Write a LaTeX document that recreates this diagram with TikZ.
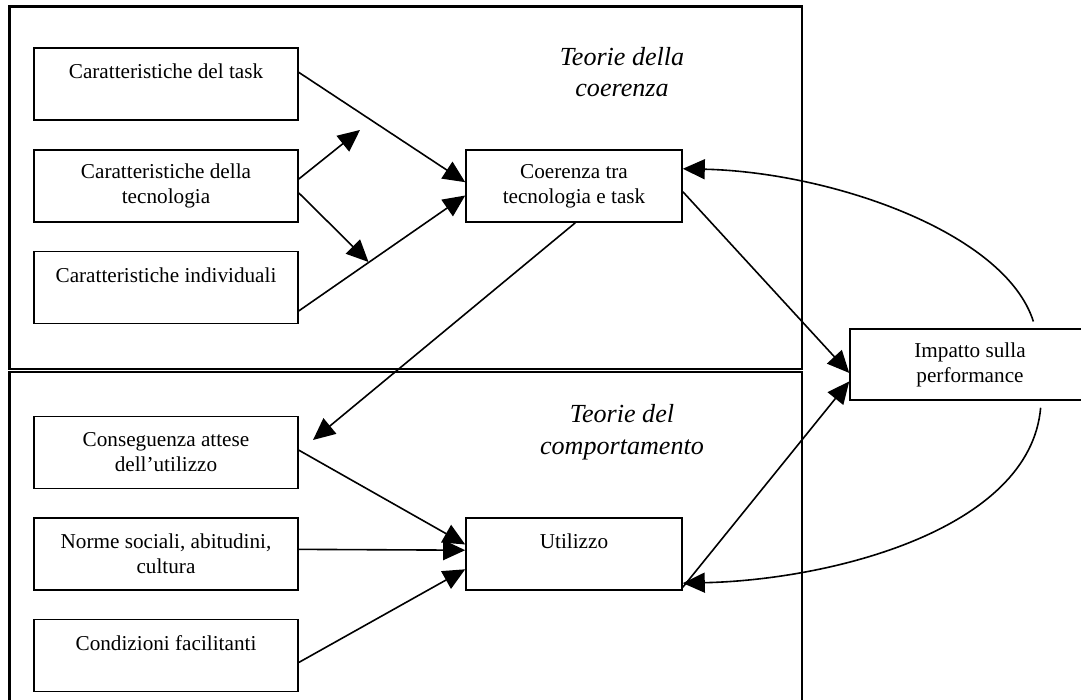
\documentclass[tikz,border=0pt]{standalone}
\usepackage{fontspec}
\setmainfont{Liberation Serif}
\usetikzlibrary{arrows.meta,calc}
\tikzstyle{box}=[rectangle,draw=black,line width=1.6pt,fill=white,align=center,
  minimum width=264pt,minimum height=72pt,inner sep=0pt,
  font=\fontsize{21.2}{25}\selectfont]
\tikzstyle{lbl}=[align=center,inner sep=0pt,font=\fontsize{26.1}{31.5}\selectfont\itshape]
\tikzstyle{frame}=[draw=black,line width=2.2pt]
\tikzstyle{arr}=[line width=1.6pt,-{Triangle[length=22pt,width=20pt]}]
\tikzstyle{none}=[inner sep=0pt]

\begin{document}
\begin{tikzpicture}[x=10pt,y=10pt]
            \useasboundingbox (0,0) rectangle (108.1,70);
            \draw [style=frame] (0.95, 69.35) rectangle (80.2, 33.1);
            \draw [style=frame] (0.95, 32.8) rectangle (80.2, -2);
            \node [style=box] (1) at (16.6, 61.6) {Caratteristiche del task\\~};
            \node [style=box] (2) at (16.6, 51.4) {Caratteristiche della\\tecnologia};
            \node [style=box] (3) at (16.6, 41.25) {Caratteristiche individuali\\~};
            \node [style=box, minimum width=216pt] (4) at (57.4, 51.4) {Coerenza tra\\tecnologia e task};
            \node [style=box] (5) at (16.6, 24.75) {Conseguenza attese\\dell’utilizzo};
            \node [style=box] (6) at (16.6, 14.6) {Norme sociali, abitudini,\\cultura};
            \node [style=box] (7) at (16.6, 4.45) {Condizioni facilitanti\\~};
            \node [style=box, minimum width=216pt] (8) at (57.4, 14.6) {Utilizzo\\~};
            \node [style=box, minimum width=240pt, minimum height=71pt] (9) at (97.0, 33.55) {Impatto sulla\\performance};
            \node [style=lbl] (10) at (62.2, 62.8) {Teorie della\\coerenza};
            \node [style=lbl] (11) at (62.2, 26.8) {Teorie del\\comportamento};
            \node [style=none] (12) at (36.0, 57.0) {};
            \node [style=none] (13) at (36.85, 43.8) {};
            \node [style=none] (14) at (31.3, 26.0) {};
            \draw [style=arr] (1.5) to (4.178);
            \draw [style=arr] (2.3) to (12.center);
            \draw [style=arr] (2.-3) to (13.center);
            \draw [style=arr] (3.-10.5) to (4.185);
            \draw [style=arr] (4.-88) to (14.center);
            \draw [style=arr] (4.-3) to (9.184);
            \draw [style=arr] (8.-17) to (9.188);
            \draw [style=arr, shorten <=7pt] (9.29) .. controls (100.5, 46.8) and (83.0, 52.8) .. (4.9.5);
            \draw [style=arr, shorten <=7pt] (9.-27) .. controls (103.0, 17.0) and (83.0, 12.0) .. (8.-15.5);
            \draw [style=arr] (5.1.5) to (8.175);
            \draw [style=arr] (6.2) to (8.178);
            \draw [style=arr] (7.-3.3) to (8.188.4);
    \end{tikzpicture}
\end{document}
